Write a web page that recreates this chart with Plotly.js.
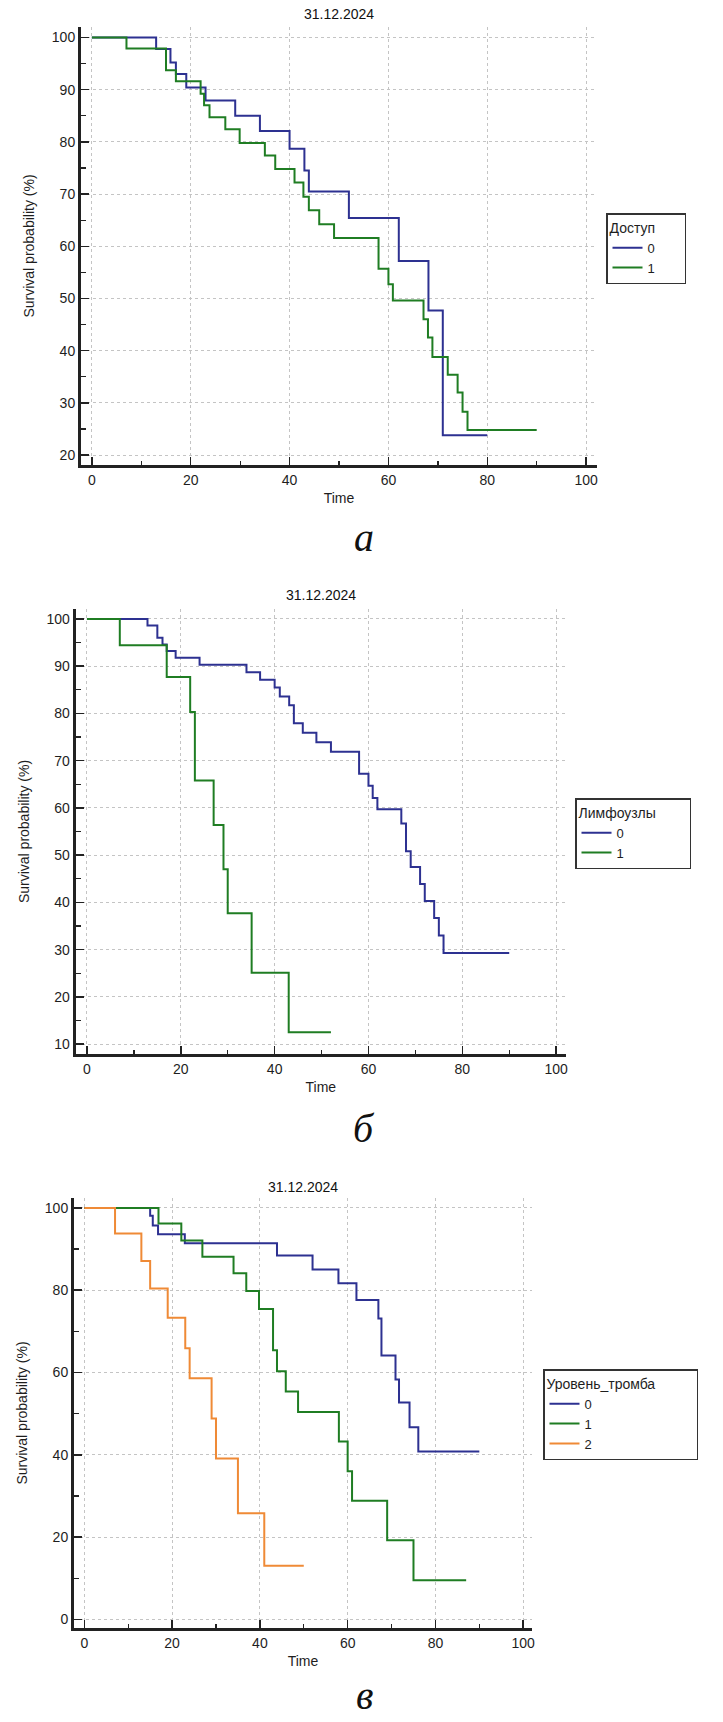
<!DOCTYPE html>
<html>
<head>
<meta charset="utf-8">
<script src="https://cdn.plot.ly/plotly-3.0.1.min.js"></script>
<style>
html,body{margin:0;padding:0;background:#fff;}
#chart{width:723px;height:1722px;}
</style>
</head>
<body>
<div id="chart"></div>
<script>
// ---------- DATA ----------
const chartTitle = '31.12.2024';
const xAxisTitle = 'Time';
const yAxisTitle = 'Survival probability (%)';
const panelLetters = ['а', 'б', 'в'];

// Panel а : Доступ
const legendTitleA = 'Доступ';
const timeA0 = [0, 13, 15.9, 17, 19.1, 23, 29, 34, 40, 43, 43.9, 52, 62.1, 68.1, 71, 80];
const survA0 = [100, 97.8, 95.2, 93.0, 90.4, 87.9, 85.0, 82.1, 78.7, 74.5, 70.5, 65.4, 57.2, 47.7, 23.8, 23.8];
const timeA1 = [0, 7, 15, 17, 22, 22.7, 23.8, 27, 29.9, 35, 37.1, 41, 42.8, 43.9, 46, 49, 58, 60, 60.9, 67.1, 68, 68.9, 72, 74, 75, 76, 90];
const survA1 = [100, 97.9, 93.7, 91.6, 89.2, 87.0, 84.7, 82.4, 79.8, 77.4, 74.8, 72.2, 69.5, 66.9, 64.2, 61.6, 55.7, 52.7, 49.6, 46.0, 42.5, 38.8, 35.4, 32.0, 28.3, 24.8, 24.8];

// Panel б : Лимфоузлы
const legendTitleB = 'Лимфоузлы';
const timeB0 = [0, 12.9, 15, 16.1, 17, 18.9, 24, 34, 36.9, 40, 41.1, 43.1, 44.1, 46, 48.9, 52, 58, 60, 60.9, 61.9, 67, 68, 69, 71, 72, 74, 75, 76, 90];
const survB0 = [100, 98.6, 96.0, 94.6, 93.2, 91.8, 90.3, 88.7, 87.1, 85.5, 83.6, 81.7, 77.9, 75.9, 73.9, 71.9, 67.2, 64.7, 62.1, 59.7, 56.7, 50.8, 47.5, 43.9, 40.3, 36.7, 33.0, 29.3, 29.3];
const timeB1 = [0, 7, 17, 22, 23, 27, 29.1, 30, 35.1, 43, 52];
const survB1 = [100, 94.4, 87.7, 80.3, 65.8, 56.4, 47.0, 37.7, 25.1, 12.5, 12.5];

// Panel в : Уровень_тромба
const legendTitleC = 'Уровень_тромба';
const timeC0 = [0, 15, 15.6, 16.8, 22.9, 43.9, 52, 57.9, 62, 67, 67.7, 70.9, 71.7, 74.1, 76.1, 90];
const survC0 = [100, 98.1, 95.7, 93.6, 91.4, 88.4, 85.0, 81.7, 77.6, 73.1, 64.1, 58.3, 52.7, 46.7, 40.8, 40.8];
const timeC1 = [0, 16.9, 22.1, 26.9, 34, 36.9, 39.8, 43, 43.9, 45.9, 48.7, 58, 60, 61, 69, 75, 87];
const survC1 = [100, 96.2, 92.1, 88.1, 84.1, 79.8, 75.4, 65.4, 60.3, 55.4, 50.4, 43.2, 36.0, 28.8, 19.2, 9.5, 9.5];
const timeC2 = [0, 7, 13, 15, 19, 23, 24, 29, 30, 35, 41, 50];
const survC2 = [100, 93.8, 87.1, 80.4, 73.3, 65.9, 58.6, 48.8, 39.1, 25.8, 13.0, 13.0];

const groupNames = ['0', '1', '2'];

// ---------- STYLE / LAYOUT ----------
const W = 723, H = 1722;
const px = v => v / W;
const py = v => 1 - v / H;
const SANS = 'Liberation Sans, Arial, Helvetica, sans-serif';
const SERIF = 'Liberation Serif, Times New Roman, serif';
const TXT = '#1e1e1e';
const BLUE = '#2d3191', GREEN = '#1f7d23', ORANGE = '#ef8a36';
const pad = n => '\u00a0'.repeat(n);   // widens the legend box like the original

function line(t, s, name, color, xa, ya, lg) {
  return {
    type: 'scatter', mode: 'lines', x: t, y: s, name: name,
    xaxis: xa, yaxis: ya, legend: lg,
    line: {shape: 'hv', color: color, width: 2},
    hoverinfo: 'skip'
  };
}

const traces = [
  line(timeA0, survA0, groupNames[0], BLUE, 'x', 'y', 'legend'),
  line(timeA1, survA1, groupNames[1], GREEN, 'x', 'y', 'legend'),
  line(timeB0, survB0, groupNames[0], BLUE, 'x2', 'y2', 'legend2'),
  line(timeB1, survB1, groupNames[1], GREEN, 'x2', 'y2', 'legend2'),
  line(timeC0, survC0, groupNames[0], BLUE, 'x3', 'y3', 'legend3'),
  line(timeC1, survC1, groupNames[1], GREEN, 'x3', 'y3', 'legend3'),
  line(timeC2, survC2, groupNames[2], ORANGE, 'x3', 'y3', 'legend3')
];

function xAxis(l, r, anchor, range) {
  return {
    domain: [px(l), px(r)], anchor: anchor, range: range,
    tickmode: 'linear', tick0: 0, dtick: 20,
    ticks: 'inside', ticklen: 8, tickwidth: 1.5, tickcolor: '#222',
    minor: {ticks: 'inside', dtick: 10, ticklen: 4, tickwidth: 1.3, tickcolor: '#222', showgrid: false},
    showline: true, linewidth: 3, linecolor: '#222',
    showgrid: true, gridcolor: '#c4c4c4', griddash: 'dot', gridwidth: 1,
    zeroline: false, fixedrange: true,
    tickfont: {family: SANS, size: 14, color: TXT},
    title: {text: xAxisTitle, font: {family: SANS, size: 14, color: TXT}, standoff: 7}
  };
}
function yAxis(t, b, anchor, range, dtick, minorDtick) {
  return {
    domain: [py(b), py(t)], anchor: anchor, range: range,
    tickmode: 'linear', tick0: 0, dtick: dtick,
    ticks: 'inside', ticklen: 8, tickwidth: 1.5, tickcolor: '#222',
    minor: {ticks: 'inside', dtick: minorDtick, ticklen: 5, tickwidth: 1.3, tickcolor: '#222', showgrid: false},
    showline: true, linewidth: 3, linecolor: '#222',
    showgrid: true, gridcolor: '#c4c4c4', griddash: 'dot', gridwidth: 1,
    zeroline: false, fixedrange: true,
    tickfont: {family: SANS, size: 14, color: TXT},
    title: {text: yAxisTitle, font: {family: SANS, size: 14, color: TXT}, standoff: 14}
  };
}
function legendAt(x, y, title, extra) {
  return {
    x: px(x), y: py(y), xanchor: 'left', yanchor: 'top',
    bordercolor: '#333', borderwidth: 1.5, bgcolor: '#fff',
    font: {family: SANS, size: 13, color: TXT},
    title: {text: title + pad(extra), font: {family: SANS, size: 14, color: TXT}},
    itemwidth: 30, tracegroupgap: 0, traceorder: 'normal'
  };
}
function textAnn(x, y, text, size, family, italic, yanchor) {
  return {
    xref: 'paper', yref: 'paper', x: px(x), y: py(y),
    xanchor: 'center', yanchor: yanchor || 'middle', showarrow: false,
    text: italic ? '<i>' + text + '</i>' : text,
    font: {family: family, size: size, color: '#111'}
  };
}

const layout = {
  width: W, height: H,
  margin: {l: 0, r: 0, t: 0, b: 0, pad: 0},
  paper_bgcolor: '#fff', plot_bgcolor: '#fff',
  showlegend: true,
  xaxis: xAxis(81, 597, 'y', [-2.2, 102.2]),
  yaxis: yAxis(27, 465, 'x', [18.1, 102], 10, 5),
  xaxis2: xAxis(75.7, 566, 'y2', [-2.4, 102.1]),
  yaxis2: yAxis(609, 1054, 'x2', [7.9, 102.1], 10, 5),
  xaxis3: xAxis(74, 532, 'y3', [-2.35, 102]),
  yaxis3: yAxis(1198, 1628, 'x3', [-2.1, 102.4], 20, 10),
  legend: legendAt(606, 213, legendTitleA, 7),
  legend2: legendAt(575, 798, legendTitleB, 8),
  legend3: legendAt(543, 1369, legendTitleC, 10),
  annotations: [
    textAnn(339, 14, chartTitle, 14, SANS, false),
    textAnn(321, 595, chartTitle, 14, SANS, false),
    textAnn(303, 1187, chartTitle, 14, SANS, false),
    textAnn(364, 537, panelLetters[0], 40, SERIF, true),
    textAnn(364, 1128, panelLetters[1], 40, SERIF, true),
    textAnn(364, 1720, panelLetters[2], 40, SERIF, true, 'bottom')
  ]
};

Plotly.newPlot('chart', traces, layout, {staticPlot: true, displayModeBar: false});
</script>
</body>
</html>
